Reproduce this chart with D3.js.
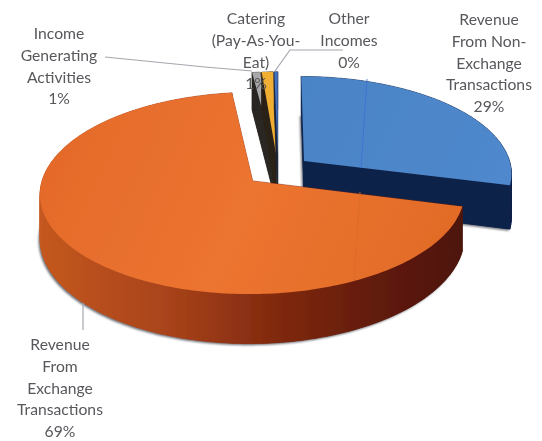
<!DOCTYPE html>
<html>
<head>
<meta charset="utf-8">
<style>
html, body { margin: 0; padding: 0; background: #fff; }
svg { display: block; }
.label { font-family: Lato, "Open Sans", sans-serif; font-size: 15.7px; fill: #56585c; text-anchor: middle; }
.leader { fill: none; stroke: #a9a4ad; stroke-width: 1.2; }
.scan { fill: none; stroke-width: 0.8; }
</style>
</head>
<body>
<div id="chart"></div>
<script src="https://cdn.jsdelivr.net/npm/d3@7"></script>
<script>
const categories = ["Revenue From Non-Exchange Transactions", "Revenue From Exchange Transactions", "Income Generating Activities", "Catering (Pay-As-You-Eat)", "Other Incomes"];
const values = [29.0, 69.0, 0.7, 1.0, 0.3];
const percentLabels = ["29%", "69%", "1%", "1%", "0%"];
const labelLines = [
    ["Revenue", "From Non-", "Exchange", "Transactions"],
    ["Revenue", "From", "Exchange", "Transactions"],
    ["Income", "Generating", "Activities"],
    ["Catering", "(Pay-As-You-", "Eat)"],
    ["Other", "Incomes"]
];
const topColors = ["url(#blueTop)", "url(#orangeTop)", "#a8a8a8", "#f0ae32", "#3f6fc0"];
const sideColors = ["#10234a", "url(#orangeSide)", "#2a2624", "#2b2118", "#1c2438"];

const width = 542;
const height = 441;

// pie disc is drawn in its own flat coordinates, then tilted with a little perspective
const centerX = 278, centerY = 170.5, radius = 208, tilt = 0.466, perspective = 0.12, depth = 43, explode = 0.16;

const x = d3.scaleLinear().domain([-1, 1]).range([centerX - radius, centerX + radius]);
const y = d3.scaleLinear().domain([-1, 1]).range([centerY + radius * tilt, centerY - radius * tilt]);

function project(u, v, z) {
    const s = 1 / (1 + perspective * v);
    return [x(u * s), y(v * s) + z * depth * s];
}

const svg = d3.select("#chart").append("svg").attr("width", width).attr("height", height);
const defs = svg.append("defs");

function addGradient(id, x1, y1, x2, y2, stops) {
    const g = defs.append("linearGradient").attr("id", id)
        .attr("gradientUnits", "userSpaceOnUse")
        .attr("x1", x1).attr("y1", y1).attr("x2", x2).attr("y2", y2);
    stops.forEach(s => g.append("stop").attr("offset", s[0]).attr("stop-color", s[1]));
}
addGradient("orangeTop", 40, 100, 460, 290, [[0, "#e3692a"], [0.5, "#ec7430"], [1, "#e06a26"]]);
addGradient("orangeSide", 40, 0, 470, 0, [[0, "#c4581f"], [0.3, "#a8431a"], [0.55, "#80290f"], [0.8, "#5f1a0b"], [1, "#4c1409"]]);
addGradient("blueTop", 300, 80, 500, 180, [[0, "#4a84c6"], [1, "#4f88cc"]]);

const soften = defs.append("filter").attr("id", "soften");
soften.append("feGaussianBlur").attr("stdDeviation", 0.5);
const shadowBlur = defs.append("filter").attr("id", "shadowBlur");
shadowBlur.append("feGaussianBlur").attr("stdDeviation", 1.2);

const pie = d3.pie().sort(null).startAngle(0).endAngle(2 * Math.PI);
const arcs = pie(values);
const line = d3.line();

function sliceShape(d) {
    const mid = (d.startAngle + d.endAngle) / 2;
    const ou = Math.sin(mid) * explode;
    const ov = Math.cos(mid) * explode;
    const steps = Math.max(2, Math.ceil((d.endAngle - d.startAngle) / 0.02));
    const rim = d3.range(steps + 1).map(i => {
        const a = d.startAngle + (d.endAngle - d.startAngle) * i / steps;
        return [ou + Math.sin(a), ov + Math.cos(a)];
    });
    return { apex: [ou, ov], rim: rim };
}

function facePath(shape, z) {
    const pts = [shape.apex, ...shape.rim].map(p => project(p[0], p[1], z));
    return line(pts) + "Z";
}

function wallPaths(shape) {
    const outline = [shape.apex, ...shape.rim, shape.apex];
    return d3.pairs(outline).map(pair => {
        const pts = [
            project(pair[0][0], pair[0][1], 0),
            project(pair[1][0], pair[1][1], 0),
            project(pair[1][0], pair[1][1], 1),
            project(pair[0][0], pair[0][1], 1)
        ];
        return line(pts) + "Z";
    });
}

const root = svg.append("g").attr("filter", "url(#soften)");

// soft grey edge that the slices leave on the page
const shadow = root.append("g").attr("filter", "url(#shadowBlur)").attr("transform", "translate(-1.5,1.5)");
[1, 0].forEach(i => {
    shadow.append("path").attr("d", facePath(sliceShape(arcs[i]), 1)).attr("fill", "#6d7078");
});

// back slices first, the big orange one sits in front of them
const drawOrder = [2, 3, 4, 0, 1];
drawOrder.forEach(i => {
    const shape = sliceShape(arcs[i]);
    const g = root.append("g").attr("class", "slice");
    g.append("path").attr("d", facePath(shape, 1)).attr("fill", sideColors[i]);
    g.selectAll(".wall").data(wallPaths(shape)).enter().append("path")
        .attr("class", "wall")
        .attr("d", d => d)
        .attr("fill", sideColors[i])
        .attr("stroke", sideColors[i])
        .attr("stroke-width", 0.5);
    g.append("path").attr("d", facePath(shape, 0)).attr("fill", topColors[i]);
});

// thin lines the scan left across the slices
const scanLines = [
    { points: [[367, 79], [361, 168]], color: "#3b6fd2" },
    { points: [[360, 192], [354, 280]], color: "#d96c28" }
];
root.selectAll(".scan").data(scanLines).enter().append("path")
    .attr("class", "scan")
    .attr("stroke", d => d.color)
    .attr("d", d => line(d.points));

const leaders = [
    [[105, 57], [205, 67], [252, 71]],
    [[343, 50], [290, 50], [275, 71]],
    [[83, 303], [83, 330]]
];
root.selectAll(".leader").data(leaders).enter().append("path")
    .attr("class", "leader")
    .attr("d", d => line(d));

const labelX = [489, 60, 59, 256, 349];
const labelY = [25, 350, 39, 24, 24];
const lineStep = 21.8;

categories.forEach((name, i) => {
    const text = root.append("text").attr("class", "label").attr("data-category", name);
    labelLines[i].concat(percentLabels[i]).forEach((t, j) => {
        text.append("tspan").attr("x", labelX[i]).attr("y", labelY[i] + j * lineStep).text(t);
    });
});
</script>
</body>
</html>
